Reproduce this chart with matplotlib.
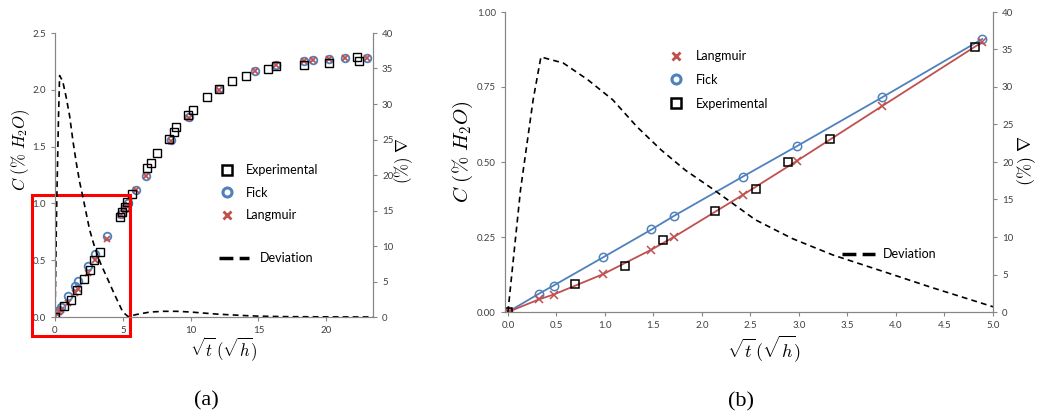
import matplotlib
matplotlib.use("Agg")
import matplotlib.pyplot as plt
from matplotlib.lines import Line2D
from matplotlib.patches import Rectangle
from matplotlib.ticker import FormatStrFormatter

plt.rcParams['font.family'] = ['Lato', 'DejaVu Sans']
plt.rcParams['mathtext.fontset'] = 'cm'

# ---- data ----
# model points: sqrt(t) in sqrt(h)
model_x = [0, 0.32, 0.47, 0.98, 1.48, 1.71, 2.42, 2.98, 3.86, 4.89, 5.13, 5.36,
           5.94, 6.68, 8.58, 9.88, 12.10, 14.74, 16.27, 18.37, 19.0, 20.21, 21.35, 23.0]
fick = [0, 0.061, 0.088, 0.182, 0.275, 0.320, 0.451, 0.553, 0.716, 0.910, 0.960, 1.000,
        1.120, 1.245, 1.558, 1.758, 2.004, 2.168, 2.218, 2.256, 2.262, 2.271, 2.277, 2.283]
langmuir = [0, 0.042, 0.058, 0.126, 0.208, 0.250, 0.390, 0.504, 0.687, 0.900, 0.950, 0.990,
            1.115, 1.240, 1.550, 1.750, 2.000, 2.165, 2.215, 2.254, 2.260, 2.270, 2.276, 2.282]

exp_x = [0, 0.69, 1.21, 1.60, 2.13, 2.56, 2.89, 3.32, 4.81, 4.95, 5.13, 5.30, 5.69,
         6.80, 7.07, 7.52, 8.40, 8.80, 8.95, 9.84, 10.18, 11.21, 12.13, 13.05, 14.05,
         15.68, 16.27, 18.37, 20.21, 22.26, 22.45]
exp_c = [0, 0.0925, 0.153, 0.240, 0.337, 0.410, 0.499, 0.576, 0.882, 0.927, 0.971, 1.012, 1.085,
         1.309, 1.353, 1.446, 1.570, 1.628, 1.670, 1.778, 1.822, 1.934, 2.007, 2.075, 2.124,
         2.186, 2.210, 2.218, 2.238, 2.290, 2.250]

# deviation between models (%)
dev_x = [0, 0.13, 0.26, 0.34, 0.57, 0.82, 1.08, 1.33, 1.58, 1.83, 2.10, 2.55, 2.93, 3.35,
         3.94, 4.36, 5.0, 5.4, 6.0, 7.0, 8.0, 9.0, 10.0, 11.0, 12.0, 13.0, 14.0, 15.0, 17.0, 20.0, 23.5]
dev_y = [0, 16.3, 28.3, 34.0, 33.2, 31.0, 28.3, 24.7, 21.6, 18.9, 16.5, 12.3, 9.8, 7.6,
         5.1, 3.3, 0.7, 0.05, 0.35, 0.7, 0.8, 0.8, 0.7, 0.55, 0.4, 0.3, 0.2, 0.12, 0.05, 0.02, 0]

blue = '#4F81BD'
red = '#C0504D'
gray = '#868686'
tickc = '#404040'

W, H = 1040, 419
fig = plt.figure(figsize=(W / 100, H / 100), dpi=100)


def frac(x0, y0, x1, y1):
    return [x0 / W, 1 - y1 / H, (x1 - x0) / W, (y1 - y0) / H]


def style(ax, ax2):
    for a in (ax, ax2):
        a.spines['top'].set_visible(False)
        for s in ('left', 'right', 'bottom'):
            a.spines[s].set_color(gray)
            a.spines[s].set_linewidth(0.8)
        a.tick_params(colors=gray, labelcolor=tickc, labelsize=7, length=3, width=0.8)
    ax2.set_ylim(0, 40)
    ax2.set_yticks(range(0, 41, 5))


# ---------------- panel (a) ----------------
ax = fig.add_axes(frac(55, 33, 373, 317))
ax2 = ax.twinx()
style(ax, ax2)
ax.set_xlim(0, 23.45)
ax.set_ylim(0, 2.5)
ax.set_xticks([0, 5, 10, 15, 20])
ax.set_yticks([0, 0.5, 1.0, 1.5, 2.0, 2.5])
ax.yaxis.set_major_formatter(FormatStrFormatter('%.1f'))

ax.plot(model_x, fick, 'o', ms=5.5, mfc='none', mec=blue, mew=1.3, zorder=3)
ax.plot(model_x, langmuir, 'x', ms=5, mec=red, mew=1.3, zorder=4)
ax.plot(exp_x, exp_c, 's', ms=5.8, mfc='none', mec='black', mew=1.0, zorder=5)
ax2.plot(dev_x, dev_y, color='black', lw=1.2, dashes=(3.5, 2.5))

ax.add_patch(Rectangle((-1.68, -0.167), 7.18, 1.241, fill=False, ec='red', lw=2.2,
                       clip_on=False, zorder=10))

h_exp = Line2D([], [], ls='none', marker='s', ms=7, mfc='none', mec='black', mew=1.8)
h_fick = Line2D([], [], ls='none', marker='o', ms=6.5, mfc='none', mec=blue, mew=2.2)
h_lang = Line2D([], [], ls='none', marker='x', ms=6, mec=red, mew=2.0)
h_dev = Line2D([], [], color='black', lw=2.5, dashes=(4, 1.8))

leg = ax.legend([h_exp, h_fick, h_lang], ['Experimental', 'Fick', 'Langmuir'],
                loc='upper left', bbox_to_anchor=(221 / W, 1 - 164 / H),
                bbox_transform=fig.transFigure, frameon=False, fontsize=9,
                handlelength=1.0, handletextpad=1.0, labelspacing=0.85, borderpad=0,
                borderaxespad=0)
ax.add_artist(leg)
ax.legend([h_dev], ['Deviation'], loc='upper left', bbox_to_anchor=(219 / W, 1 - 252 / H),
          bbox_transform=fig.transFigure, frameon=False, fontsize=9,
          handlelength=2.4, handletextpad=0.9, borderpad=0, borderaxespad=0)

# ---------------- panel (b) ----------------
bx = fig.add_axes(frac(505, 12, 993, 312))
bx2 = bx.twinx()
style(bx, bx2)
bx.set_xlim(-0.03, 5.0)
bx.set_ylim(0, 1.0)
bx.set_xticks([0, 0.5, 1.0, 1.5, 2.0, 2.5, 3.0, 3.5, 4.0, 4.5, 5.0])
bx.set_yticks([0, 0.25, 0.5, 0.75, 1.0])
bx.xaxis.set_major_formatter(FormatStrFormatter('%.1f'))
bx.yaxis.set_major_formatter(FormatStrFormatter('%.2f'))

nb = 10  # model points inside 0..5
bx.plot(model_x[:nb], fick[:nb], '-o', color=blue, lw=1.3, ms=6, mfc='none', mec=blue, mew=1.1, zorder=3)
bx.plot(model_x[:nb], langmuir[:nb], '-x', color=red, lw=1.3, ms=5.5, mec=red, mew=1.1, zorder=4)
ne = 9
bx.plot(exp_x[:ne], exp_c[:ne], 's', ms=5.5, mfc='none', mec='black', mew=1.1, zorder=5)
bx2.plot(dev_x[:17], dev_y[:17], color='black', lw=1.2, dashes=(3.5, 2.5))

leg = bx.legend([h_lang, h_fick, h_exp], ['Langmuir', 'Fick', 'Experimental'],
                loc='upper left', bbox_to_anchor=(670 / W, 1 - 50 / H),
                bbox_transform=fig.transFigure, frameon=False, fontsize=9,
                handlelength=1.0, handletextpad=1.1, labelspacing=0.95, borderpad=0,
                borderaxespad=0)
bx.add_artist(leg)
bx.legend([h_dev], ['Deviation'], loc='upper left', bbox_to_anchor=(842 / W, 1 - 248 / H),
          bbox_transform=fig.transFigure, frameon=False, fontsize=9,
          handlelength=2.6, handletextpad=0.7, borderpad=0, borderaxespad=0)

# ---------------- labels ----------------
ylab = r'$C\ (\%\ H_2O)$'
xlab = r'$\sqrt{t}\,(\sqrt{h})$'
rlab = r'$(\%)\ \nabla$'
fig.text(21 / W, 1 - 150 / H, ylab, rotation=90, ha='center', va='center', fontsize=12)
fig.text(463 / W, 1 - 152 / H, ylab, rotation=90, ha='center', va='center', fontsize=15)
fig.text(404 / W, 1 - 161 / H, rlab, rotation=90, ha='center', va='center', fontsize=12)
fig.text(1027 / W, 1 - 161 / H, rlab, rotation=90, ha='center', va='center', fontsize=13)
fig.text(224 / W, 1 - 349 / H, xlab, ha='center', va='center', fontsize=12)
fig.text(764 / W, 1 - 349 / H, xlab, ha='center', va='center', fontsize=13)
fig.text(206 / W, 1 - 401 / H, '(a)', ha='center', va='center', fontsize=16,
         family='Liberation Serif')
fig.text(741 / W, 1 - 402 / H, '(b)', ha='center', va='center', fontsize=16,
         family='Liberation Serif')

fig.savefig('out.png', dpi=100)
